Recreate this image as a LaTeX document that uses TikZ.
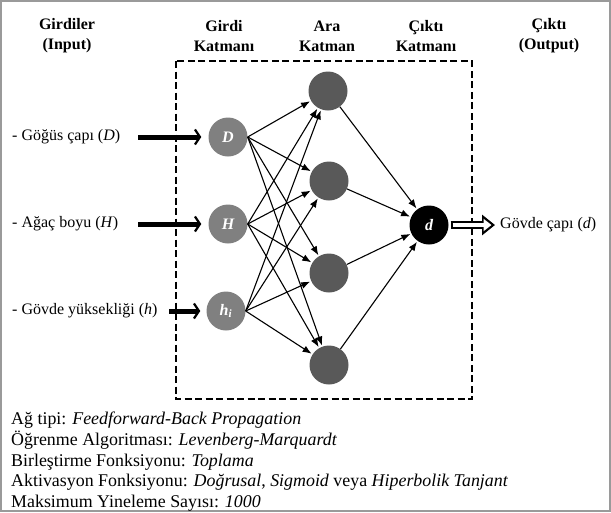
\documentclass[tikz,border=0pt]{standalone}
\usepackage{fontspec}
\setmainfont{Liberation Serif}
\usetikzlibrary{arrows.meta}
\definecolor{InGray}{HTML}{808080}
\definecolor{HidGray}{HTML}{595959}
\definecolor{FrameGray}{HTML}{9A9A9A}

\begin{document}
\begin{tikzpicture}[x=1pt, y=-1pt,
    neuron/.style={circle, minimum size=39pt, inner sep=0pt, text=white,
      font=\fontsize{16}{18}\selectfont\bfseries\itshape},
    innode/.style={neuron, fill=InGray},
    hidnode/.style={neuron, fill=HidGray},
    outnode/.style={neuron, fill=black},
    head/.style={align=center, font=\fontsize{16}{20}\selectfont\bfseries},
    lbl/.style={inner sep=0pt, font=\fontsize{16}{19}\selectfont},
    info/.style={anchor=base west, inner sep=0pt, font=\fontsize{17.9}{21}\selectfont},
    conn/.style={-{Latex[length=9pt,width=7pt]}, line width=1.1pt, shorten >=1pt},
    inarrow/.style={line width=5pt, -{Straight Barb[length=5pt, width=15pt, line width=2.2pt]}},
    outarrow/.style={line width=8.5pt, -{Triangle[length=13pt, width=20pt]}},
    outinner/.style={line width=4pt, white, -{Triangle[length=8pt, width=12pt]}}
  ]
    \useasboundingbox (0,0) rectangle (611,512);
    \draw[FrameGray, line width=2pt] (1,1) rectangle (610,511);
    \draw[line width=1.6pt, dash pattern=on 7pt off 3.5pt] (176,61) rectangle (472,399);

    % headings
    \node[head] (hIn) at (67,36) {Girdiler\\(Input)};
    \node[head] (hL1) at (224,36) {Girdi\\Katmanı};
    \node[head] (hL2) at (327,36) {Ara\\Katman};
    \node[head] (hL3) at (426,36) {Çıktı\\Katmanı};
    \node[head] (hOut) at (549,36) {Çıktı\\(Output)};

    % layers
    \node[innode] (D) at (228,137) {D};
    \node[innode] (H) at (228,224) {H};
    \node[innode] (hi) at (226,311) {h\textsubscript{i}};
    \node[hidnode] (a1) at (328,91) {};
    \node[hidnode] (a2) at (329,181) {};
    \node[hidnode] (a3) at (329,273) {};
    \node[hidnode] (a4) at (329,365) {};
    \node[outnode] (d) at (429,225) {d};

    % inputs and output
    \node[lbl, anchor=west] (lD) at (12,137) {- Göğüs çapı (\textit{D})};
    \node[lbl, anchor=west] (lH) at (12,224) {- Ağaç boyu (\textit{H})};
    \node[lbl, anchor=west] (lh) at (12,311) {- Gövde yüksekliği (\textit{h})};
    \node[lbl, anchor=west] (lOut) at (500,225) {Gövde çapı (\textit{d})};
    \coordinate (sD) at (138,137);
    \coordinate (sH) at (138,224);
    \coordinate (sh) at (169,311);
    \draw[inarrow, shorten >=7pt] (sD) -- (D);
    \draw[inarrow, shorten >=7pt] (sH) -- (H);
    \draw[inarrow, shorten >=6pt] (sh) -- (hi);
    \draw[outarrow, shorten <=2pt, shorten >=5pt] (d) -- (lOut);
    \draw[outinner, shorten <=4pt, shorten >=8.5pt] (d) -- (lOut);

    % connections
    \foreach \i in {D,H,hi}
      \foreach \j in {a1,a2,a3,a4}
        \draw[conn] (\i.east) -- (\j);
    \foreach \j in {a1,a2,a3,a4}
      \draw[conn] (\j) -- (d);

    % notes
    \node[info] (t1) at (11,424) {Ağ tipi: \textit{Feedforward-Back Propagation}};
    \node[info] (t2) at (11,445) {Öğrenme Algoritması: \textit{Levenberg-Marquardt}};
    \node[info] (t3) at (11,466) {Birleştirme Fonksiyonu: \textit{Toplama}};
    \node[info] (t4) at (11,486) {Aktivasyon Fonksiyonu: \textit{Doğrusal}, \textit{Sigmoid} veya \textit{Hiperbolik Tanjant}};
    \node[info] (t5) at (11,507) {Maksimum Yineleme Sayısı: \textit{1000}};
\end{tikzpicture}
\end{document}
